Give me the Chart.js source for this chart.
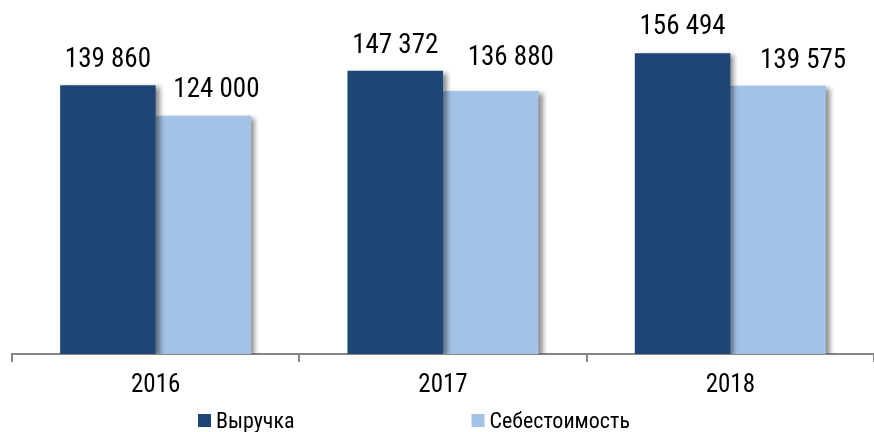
<!DOCTYPE html>
<html>
<head>
<meta charset="utf-8">
<script src="https://cdn.jsdelivr.net/npm/chart.js@4"></script>
<style>
  html, body { margin: 0; padding: 0; background: #fff; }
  #wrap { width: 874px; height: 432px; }
</style>
</head>
<body>
<div id="wrap"><canvas id="myChart"></canvas></div>
<script>
var years = ['2016', '2017', '2018'];
var revenue = [139860, 147372, 156494];   // Выручка
var cost = [124000, 136880, 139575];      // Себестоимость
var seriesNames = ['Выручка', 'Себестоимость'];

var FONT = '"Roboto Condensed", "Liberation Sans Narrow", sans-serif';

function fmt(v) {
  return String(v).replace(/\B(?=(\d{3})+(?!\d))/g, ' ');
}

// labels above bars (some were moved by hand in the original)
var valueLabels = {
  id: 'valueLabels',
  afterDatasetsDraw: function(chart, args, opts) {
    var ctx = chart.ctx;
    ctx.save();
    ctx.font = '27px ' + FONT;
    ctx.fillStyle = '#000';
    ctx.textAlign = 'center';
    ctx.textBaseline = 'alphabetic';
    chart.data.datasets.forEach(function(ds, di) {
      var meta = chart.getDatasetMeta(di);
      meta.data.forEach(function(bar, i) {
        var dx = opts.shiftX[di][i], gap = opts.gap[di][i];
        ctx.fillText(fmt(ds.data[i]), bar.x + dx, bar.y - gap);
      });
    });
    ctx.restore();
  }
};

// bar shadow
var barShadow = {
  id: 'barShadow',
  beforeDatasetDraw: function(chart) {
    var ctx = chart.ctx;
    ctx.save();
    ctx.shadowColor = 'rgba(0,0,0,0.45)';
    ctx.shadowBlur = 5;
    ctx.shadowOffsetX = 4;
    ctx.shadowOffsetY = 2;
  },
  afterDatasetDraw: function(chart) {
    chart.ctx.restore();
  }
};

// legend with a wide gap between the two items
var wideLegend = {
  id: 'wideLegend',
  afterDraw: function(chart, args, opts) {
    var ctx = chart.ctx;
    ctx.save();
    ctx.font = '22px ' + FONT;
    ctx.textBaseline = 'alphabetic';
    var items = chart.data.datasets.map(function(ds) {
      return { text: ds.label, color: ds.backgroundColor, w: 13 + 5 + ctx.measureText(ds.label).width };
    });
    var x = opts.startX;
    items.forEach(function(it) {
      ctx.fillStyle = it.color;
      ctx.fillRect(x, opts.y - 14, 13, 13);
      ctx.fillStyle = '#000';
      ctx.fillText(it.text, x + 18, opts.y);
      x += it.w + opts.gap;
    });
    ctx.restore();
  }
};

new Chart(document.getElementById('myChart'), {
  type: 'bar',
  data: {
    labels: years,
    datasets: [
      { label: seriesNames[0], data: revenue, backgroundColor: '#1f4577' },
      { label: seriesNames[1], data: cost, backgroundColor: '#a3c2e6' }
    ]
  },
  options: {
    responsive: true,
    maintainAspectRatio: false,
    animation: false,
    layout: { padding: { left: 12, right: 0, top: 8, bottom: 22 } },
    datasets: { bar: { barPercentage: 1, categoryPercentage: 0.665 } },
    scales: {
      x: {
        grid: {
          display: true,
          drawOnChartArea: false,
          drawTicks: true,
          tickLength: 8,
          color: '#868686',
          lineWidth: 2
        },
        border: { display: true, color: '#868686', width: 2 },
        ticks: {
          color: '#000',
          padding: 9,
          font: { family: FONT, size: 25 }
        }
      },
      y: { display: false, min: 0, max: 180000 }
    },
    plugins: {
      legend: { display: false },
      tooltip: { enabled: false },
      valueLabels: {
        shiftX: [[0, 0, 0], [13, 20, 25]],
        gap: [[18, 18, 19], [19, 26, 18]]
      },
      wideLegend: { startX: 198, y: 428, gap: 177 }
    }
  },
  plugins: [barShadow, valueLabels, wideLegend]
});
</script>
</body>
</html>
